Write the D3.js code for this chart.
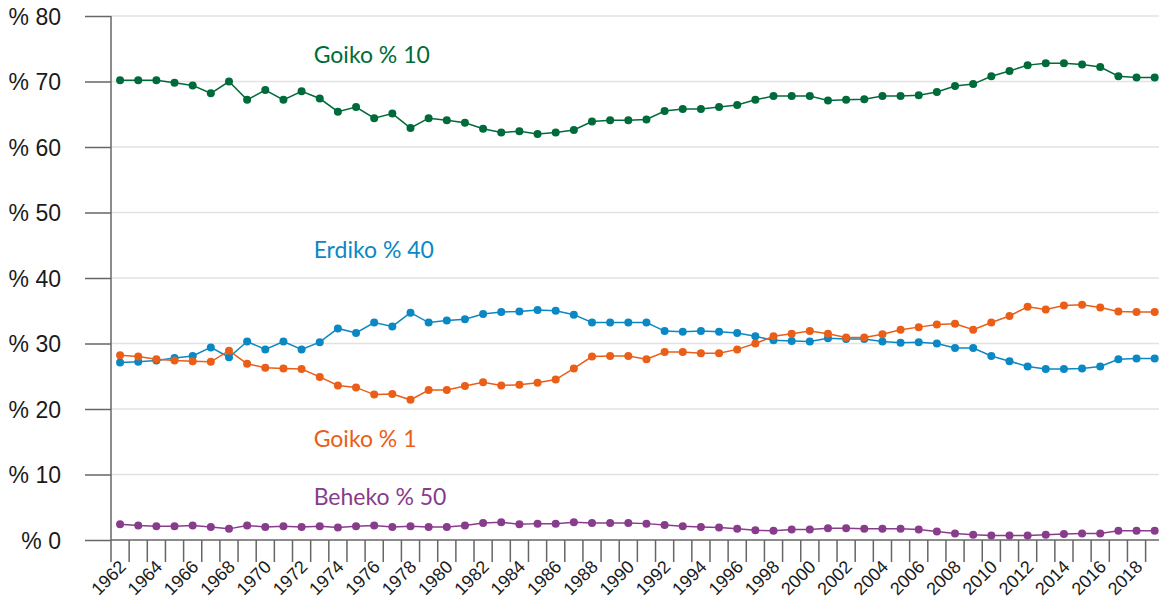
<!DOCTYPE html>
<html>
<head>
<meta charset="utf-8">
<script src="https://cdn.jsdelivr.net/npm/d3@7"></script>
<style>
  html, body { margin: 0; padding: 0; background: #fff; }
  svg { display: block; font-family: Lato, "Open Sans", sans-serif; }
</style>
</head>
<body>
<svg id="chart"></svg>
<script>
const years = d3.range(1962, 2020).map(String);

const goiko10 = [70.2,70.2,70.2,69.8,69.4,68.2,70.0,67.2,68.7,67.2,68.5,67.4,65.4,66.1,64.4,65.1,
  62.9,64.4,64.1,63.7,62.8,62.2,62.4,62.0,62.2,62.6,63.9,64.1,64.1,64.2,65.5,65.8,65.8,66.1,66.4,67.2,
  67.8,67.8,67.8,67.1,67.2,67.3,67.8,67.8,67.9,68.4,69.3,69.6,70.8,71.6,72.5,72.8,72.8,72.6,72.2,70.8,70.6,70.6];
const erdiko40 = [27.1,27.2,27.4,27.8,28.1,29.4,27.9,30.3,29.1,30.3,29.1,30.2,32.3,31.6,33.2,32.6,
  34.7,33.2,33.5,33.7,34.5,34.8,34.9,35.1,35.0,34.4,33.2,33.2,33.2,33.2,31.9,31.8,31.9,31.8,31.6,31.1,
  30.5,30.4,30.3,30.8,30.7,30.7,30.3,30.1,30.2,30.0,29.3,29.3,28.1,27.3,26.5,26.1,26.1,26.2,26.5,27.6,27.7,27.7];
const goiko1 = [28.2,28.0,27.6,27.4,27.3,27.2,28.9,26.9,26.3,26.2,26.1,24.9,23.6,23.3,22.2,22.3,
  21.4,22.9,22.9,23.5,24.1,23.6,23.7,24.0,24.5,26.2,28.0,28.1,28.1,27.6,28.7,28.7,28.5,28.5,29.1,30.0,
  31.1,31.5,31.9,31.5,30.9,30.9,31.4,32.1,32.5,32.9,33.0,32.1,33.2,34.2,35.6,35.2,35.8,35.9,35.5,34.9,34.8,34.8];
const beheko50 = [2.4,2.2,2.1,2.1,2.2,2.0,1.7,2.2,2.0,2.1,2.0,2.1,1.9,2.1,2.2,2.0,
  2.1,2.0,2.0,2.2,2.6,2.7,2.4,2.5,2.5,2.7,2.6,2.6,2.6,2.5,2.3,2.1,2.0,1.9,1.7,1.5,
  1.4,1.6,1.6,1.8,1.8,1.7,1.7,1.7,1.6,1.3,1.0,0.8,0.7,0.7,0.7,0.8,0.9,1.0,1.0,1.4,1.4,1.4];

const seriesNames = ["Goiko % 10", "Erdiko % 40", "Goiko % 1", "Beheko % 50"];
const yTicks = [0,10,20,30,40,50,60,70,80];

const series = [
  {name: seriesNames[0], values: goiko10,  color: "#006b3a", label: ["1973", 72.8]},
  {name: seriesNames[1], values: erdiko40, color: "#0a88c4", label: ["1973", 43.0]},
  {name: seriesNames[2], values: goiko1,   color: "#ea5e18", label: ["1973", 14.2]},
  {name: seriesNames[3], values: beheko50, color: "#883c8c", label: ["1973", 5.3]}
];

const width = 1159, height = 600;
const mLeft = 111, mTop = 16, mBottom = 540;
const band = 18.151;

const svg = d3.select("#chart").attr("width", width).attr("height", height);

const xScale = d3.scaleBand().domain(years).range([mLeft, mLeft + band * years.length]);
const yScale = d3.scaleLinear().domain([0, 80]).range([mBottom, mTop]);

// grid
svg.append("g").selectAll("line")
  .data(yTicks.filter(d => d > 0))
  .enter().append("line")
  .attr("x1", mLeft).attr("x2", width)
  .attr("y1", d => yScale(d)).attr("y2", d => yScale(d))
  .style("stroke", "#e2e2e2").style("stroke-width", 1.5);

// y axis
const yAxis = d3.axisLeft(yScale).tickValues(yTicks).tickSize(26).tickPadding(24)
  .tickFormat(d => "% " + d);
const yg = svg.append("g").attr("transform", `translate(${mLeft},0)`).call(yAxis);
yg.select(".domain").remove();
yg.selectAll("line").style("stroke", "#666").style("stroke-width", 1.5);
yg.selectAll("text").style("font-size", "23px").style("font-weight", 300)
  .style("fill", "#1a1a1a").attr("dy", "0.36em");
svg.append("line")
  .attr("x1", mLeft).attr("x2", mLeft).attr("y1", mTop).attr("y2", mBottom)
  .style("stroke", "#666").style("stroke-width", 1.5);

// x axis: ticks at band edges
svg.append("g").selectAll("line")
  .data(years)
  .enter().append("line")
  .attr("x1", d => xScale(d)).attr("x2", d => xScale(d))
  .attr("y1", mBottom).attr("y2", mBottom + 22)
  .style("stroke", "#666").style("stroke-width", 1.5);
svg.append("line")
  .attr("x1", mLeft).attr("x2", width).attr("y1", mBottom).attr("y2", mBottom)
  .style("stroke", "#666").style("stroke-width", 1.5);

const xAxis = d3.axisBottom(xScale).tickValues(years.filter(d => +d % 2 === 0)).tickSize(0);
const xg = svg.append("g").attr("transform", `translate(0,${mBottom})`).call(xAxis);
xg.select(".domain").remove();
xg.selectAll("text")
  .attr("x", 0).attr("y", 0).attr("dy", 0)
  .attr("transform", "translate(7,28) rotate(-45)")
  .style("text-anchor", "end")
  .style("font-size", "18px").style("font-weight", 300).style("fill", "#1a1a1a");

// series
const line = d3.line()
  .x((d, i) => xScale(years[i]) + xScale.bandwidth() / 2)
  .y(d => yScale(d));

series.forEach(s => {
  svg.append("path")
    .datum(s.values)
    .attr("d", line)
    .style("fill", "none")
    .style("stroke", s.color)
    .style("stroke-width", 1.5);
  svg.append("g").selectAll("circle")
    .data(s.values)
    .enter().append("circle")
    .attr("cx", (d, i) => xScale(years[i]) + xScale.bandwidth() / 2)
    .attr("cy", d => yScale(d))
    .attr("r", 4)
    .style("fill", s.color);
  svg.append("text")
    .text(s.name)
    .attr("x", xScale(s.label[0]) + 3)
    .attr("y", yScale(s.label[1]))
    .style("fill", s.color)
    .style("font-size", "23px");
});
</script>
</body>
</html>
